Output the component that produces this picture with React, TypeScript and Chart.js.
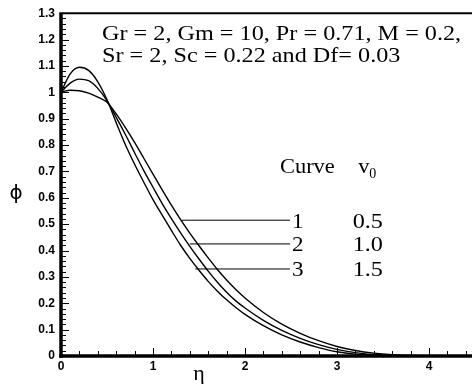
import React, { useEffect, useRef } from "react";
import { Chart, registerables } from "chart.js";

Chart.register(...registerables);

// ---- data ----
const eta = [0, 0.1, 0.2, 0.3, 0.4, 0.5, 0.6, 0.7, 0.8, 0.9, 1.0, 1.1, 1.2, 1.3, 1.4, 1.5, 1.6, 1.7, 1.8, 1.9, 2.0, 2.2, 2.4, 2.6, 2.8, 3.0, 3.2, 3.4, 3.6, 3.8, 4.0, 4.2, 4.4];
// Curve 1, v0 = 0.5
const phiCurve1 = [1.0, 1.008, 1.006, 0.997, 0.982, 0.962, 0.918, 0.866, 0.81, 0.75, 0.69, 0.63, 0.572, 0.517, 0.466, 0.418, 0.372, 0.328, 0.288, 0.252, 0.22, 0.165, 0.121, 0.086, 0.058, 0.036, 0.021, 0.011, 0.005, 0.002, 0.001, 0, 0];
// Curve 2, v0 = 1.0
const phiCurve2 = [1.0, 1.035, 1.05, 1.044, 1.015, 0.968, 0.905, 0.84, 0.771, 0.703, 0.64, 0.578, 0.521, 0.467, 0.416, 0.368, 0.322, 0.28, 0.242, 0.209, 0.182, 0.135, 0.097, 0.067, 0.043, 0.025, 0.013, 0.006, 0.002, 0.001, 0, 0, 0];
// Curve 3, v0 = 1.5
const phiCurve3 = [1.0, 1.07, 1.095, 1.083, 1.04, 0.972, 0.885, 0.801, 0.727, 0.659, 0.593, 0.534, 0.476, 0.42, 0.37, 0.325, 0.283, 0.246, 0.213, 0.184, 0.158, 0.115, 0.08, 0.053, 0.032, 0.016, 0.007, 0.003, 0.001, 0, 0, 0, 0];

const curveNames = ["1", "2", "3"];
const v0Values = ["0.5", "1.0", "1.5"];
const leaderPhi = [0.515, 0.425, 0.33];
const leaderStartEta = [1.31, 1.4, 1.46];
const leaderEndEta = 2.49;

const xTicks = [0, 1, 2, 3, 4];
const xTickLabels = ["0", "1", "2", "3", "4"];
const yTicks = [0, 0.1, 0.2, 0.3, 0.4, 0.5, 0.6, 0.7, 0.8, 0.9, 1.0, 1.1, 1.2, 1.3];
const yTickLabels = ["0", "0.1", "0.2", "0.3", "0.4", "0.5", "0.6", "0.7", "0.8", "0.9", "1", "1.1", "1.2", "1.3"];

const paramLine1 = "Gr = 2, Gm = 10, Pr = 0.71, M = 0.2,";
const paramLine2 = "Sr = 2, Sc = 0.22 and Df= 0.03";

const SERIF = "'Liberation Serif', 'Times New Roman', serif";
const SANS = "'Liberation Sans', Arial, sans-serif";

function drawText(ctx: CanvasRenderingContext2D, s: string, x: number, y: number, font: string, sx = 1) {
  ctx.save();
  ctx.font = font;
  ctx.textAlign = "left";
  ctx.textBaseline = "alphabetic";
  ctx.translate(x, y);
  ctx.scale(sx, 1);
  ctx.fillText(s, 0, 0);
  ctx.restore();
}

const overlay = {
  id: "overlay",
  afterDraw(chart: any) {
    const { ctx, chartArea, scales } = chart;
    const X = (v: number) => scales.x.getPixelForValue(v);
    const Y = (v: number) => scales.y.getPixelForValue(v);
    const { left, right, top, bottom } = chartArea;
    ctx.save();
    ctx.strokeStyle = "#000";
    ctx.fillStyle = "#000";

    // inward ticks (major + minor)
    ctx.lineWidth = 1;
    ctx.beginPath();
    for (let i = 0; i <= 65; i++) {
      const py = Math.round(Y(i * 0.02)) + 0.5;
      const len = i % 5 === 0 ? 8 : 5;
      ctx.moveTo(left, py);
      ctx.lineTo(left + len, py);
    }
    for (let i = 0; i <= 22; i++) {
      const px = Math.round(X(i * 0.2)) + 0.5;
      const len = i % 5 === 0 ? 8 : 5;
      ctx.moveTo(px, bottom);
      ctx.lineTo(px, bottom - len);
    }
    ctx.stroke();

    // axes frame
    ctx.lineWidth = 3.5;
    ctx.beginPath();
    ctx.moveTo(left, top);
    ctx.lineTo(left, bottom + 1.75);
    ctx.stroke();
    ctx.beginPath();
    ctx.moveTo(left - 1.75, bottom);
    ctx.lineTo(right, bottom);
    ctx.stroke();
    ctx.lineWidth = 2;
    ctx.beginPath();
    ctx.moveTo(left - 1.75, top);
    ctx.lineTo(right, top);
    ctx.stroke();

    // annotation text
    const f = `22px ${SERIF}`;
    drawText(ctx, paramLine1, X(0.446), Y(1.198), f, 1.1);
    drawText(ctx, paramLine2, X(0.446), Y(1.114), f, 1.1);
    drawText(ctx, "Curve", X(2.38), Y(0.693), f, 1.02);
    drawText(ctx, "v", X(3.23), Y(0.693), f, 1.02);
    drawText(ctx, "0", X(3.23) + 11, Y(0.693) + 5, `14px ${SERIF}`, 1.0);
    for (let i = 0; i < curveNames.length; i++) {
      const yb = Y(leaderPhi[i]) + 7.5;
      drawText(ctx, curveNames[i], X(2.51), yb, f, 1.05);
      drawText(ctx, v0Values[i], X(3.17), yb, f, 1.1);
    }

    // axis titles
    ctx.textAlign = "center";
    ctx.textBaseline = "middle";
    ctx.font = `22px ${SERIF}`;
    ctx.fillText("η", X(1.5), bottom + 18);
    ctx.font = `20px 'DejaVu Sans', sans-serif`;
    ctx.fillText("ϕ", left - 45, Y(0.614));
    ctx.restore();
  },
};

export default function App() {
  const ref = useRef<HTMLCanvasElement | null>(null);
  useEffect(() => {
    if (!ref.current) return;
    document.body.style.margin = "0";
    const curves = [phiCurve1, phiCurve2, phiCurve3];
    const datasets: any[] = curves.map((c, k) => ({
      label: `Curve ${curveNames[k]}`,
      data: eta.map((e, i) => ({ x: e, y: c[i] })),
      borderColor: "#000",
      borderWidth: 1.4,
      pointRadius: 0,
      fill: false,
      cubicInterpolationMode: "monotone",
    }));
    leaderPhi.forEach((p, i) => {
      datasets.push({
        label: `leader ${curveNames[i]}`,
        data: [
          { x: leaderStartEta[i], y: p },
          { x: leaderEndEta, y: p },
        ],
        borderColor: "#000",
        borderWidth: 1,
        pointRadius: 0,
        fill: false,
      });
    });
    const tickFont = { family: SANS, size: 12, weight: "bold" as const };
    const chart = new Chart(ref.current, {
      type: "line",
      data: { datasets },
      options: {
        animation: false,
        responsive: false,
        maintainAspectRatio: false,
        layout: { padding: { top: 13, right: 5, left: 0, bottom: 0 } },
        plugins: { legend: { display: false }, tooltip: { enabled: false } },
        scales: {
          x: {
            type: "linear",
            min: 0,
            max: 4.5,
            grid: { display: false, drawTicks: false },
            border: { display: false },
            ticks: {
              color: "#000",
              font: tickFont,
              padding: 3,
              maxRotation: 0,
              autoSkip: false,
              callback: (_v: any, i: number) => xTickLabels[i],
            },
            afterBuildTicks: (s: any) => {
              s.ticks = xTicks.map((v) => ({ value: v }));
            },
            afterFit: (s: any) => {
              s.height = 28;
            },
          },
          y: {
            type: "linear",
            min: 0,
            max: 1.3,
            grid: { display: false, drawTicks: false },
            border: { display: false },
            ticks: {
              color: "#000",
              font: tickFont,
              padding: 6,
              autoSkip: false,
              callback: (_v: any, i: number) => yTickLabels[i],
            },
            afterBuildTicks: (s: any) => {
              s.ticks = yTicks.map((v) => ({ value: v }));
            },
            afterFit: (s: any) => {
              s.width = 61;
            },
          },
        },
      },
      plugins: [overlay],
    });
    return () => chart.destroy();
  }, []);
  return (
    <div style={{ position: "fixed", left: 0, top: 0, width: 472, height: 384, overflow: "hidden", background: "#fff" }}>
      <canvas ref={ref} width={480} height={384} style={{ width: 480, height: 384, display: "block" }} />
    </div>
  );
}
